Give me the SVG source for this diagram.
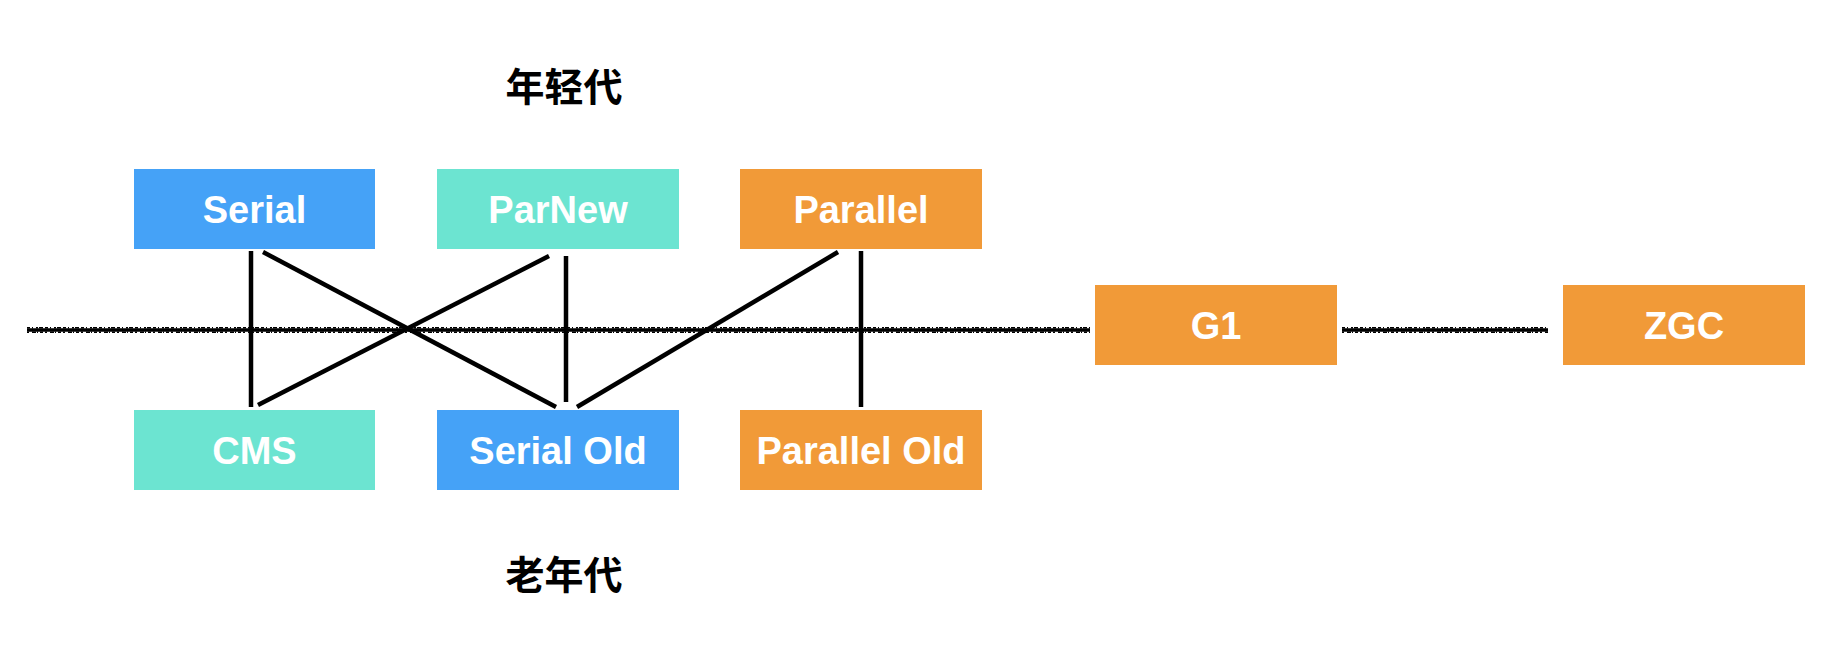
<svg xmlns="http://www.w3.org/2000/svg" width="1834" height="672" viewBox="0 0 1834 672">
<style>
.box{stroke:none}
.blue{fill:#45A2F7}
.teal{fill:#6CE4D1}
.orange{fill:#F19A38}
.lbl{font-family:"Liberation Sans",Arial,sans-serif;font-weight:bold;font-size:38px;fill:#fff;text-anchor:middle}
.cjk{font-family:"Noto Sans CJK SC","Noto Sans",sans-serif;font-weight:bold;font-size:39px;fill:#000;text-anchor:middle}
.conn{stroke:#000;stroke-width:4.5;fill:none}
.wav{stroke:#000;stroke-width:3.5;fill:none}
.wj1{stroke:#000;stroke-width:1.6;fill:none;stroke-dasharray:3 2 1 3 2 1 4 2}
.wj2{stroke:#000;stroke-width:1.6;fill:none;stroke-dasharray:2 3 4 1 1 2 3 2}
</style>
<rect width="1834" height="672" fill="#fff"/>
<g id="divider">
<line class="wav" x1="27" y1="330" x2="1090" y2="330"/>
<line class="wj1" x1="27" y1="327.8" x2="1090" y2="327.8"/>
<line class="wj2" x1="27" y1="332.2" x2="1090" y2="332.2"/>
<line class="wav" x1="1342" y1="330" x2="1548" y2="330"/>
<line class="wj1" x1="1342" y1="327.8" x2="1548" y2="327.8"/>
<line class="wj2" x1="1342" y1="332.2" x2="1548" y2="332.2"/>
</g>
<g id="connectors">
<line class="conn" x1="251" y1="251" x2="251" y2="407"/>
<line class="conn" x1="263" y1="252" x2="556" y2="407"/>
<line class="conn" x1="549" y1="256" x2="258" y2="405"/>
<line class="conn" x1="566" y1="256" x2="566" y2="402"/>
<line class="conn" x1="838" y1="252" x2="577" y2="407"/>
<line class="conn" x1="861" y1="251" x2="861" y2="407"/>
</g>
<g id="young-label"><text class="cjk" x="564" y="101">年轻代</text></g>
<g id="old-label"><text class="cjk" x="564" y="589">老年代</text></g>
<g id="serial"><rect class="box blue" x="134" y="169" width="241" height="80"/><text class="lbl" x="254.5" y="223">Serial</text></g>
<g id="parnew"><rect class="box teal" x="437" y="169" width="242" height="80"/><text class="lbl" x="558" y="223">ParNew</text></g>
<g id="parallel"><rect class="box orange" x="740" y="169" width="242" height="80"/><text class="lbl" x="861" y="223">Parallel</text></g>
<g id="cms"><rect class="box teal" x="134" y="410" width="241" height="80"/><text class="lbl" x="254.5" y="464">CMS</text></g>
<g id="serial-old"><rect class="box blue" x="437" y="410" width="242" height="80"/><text class="lbl" x="558" y="464">Serial Old</text></g>
<g id="parallel-old"><rect class="box orange" x="740" y="410" width="242" height="80"/><text class="lbl" x="861" y="464">Parallel Old</text></g>
<g id="g1"><rect class="box orange" x="1095" y="285" width="242" height="80"/><text class="lbl" x="1216" y="339">G1</text></g>
<g id="zgc"><rect class="box orange" x="1563" y="285" width="242" height="80"/><text class="lbl" x="1684" y="339">ZGC</text></g>
</svg>
